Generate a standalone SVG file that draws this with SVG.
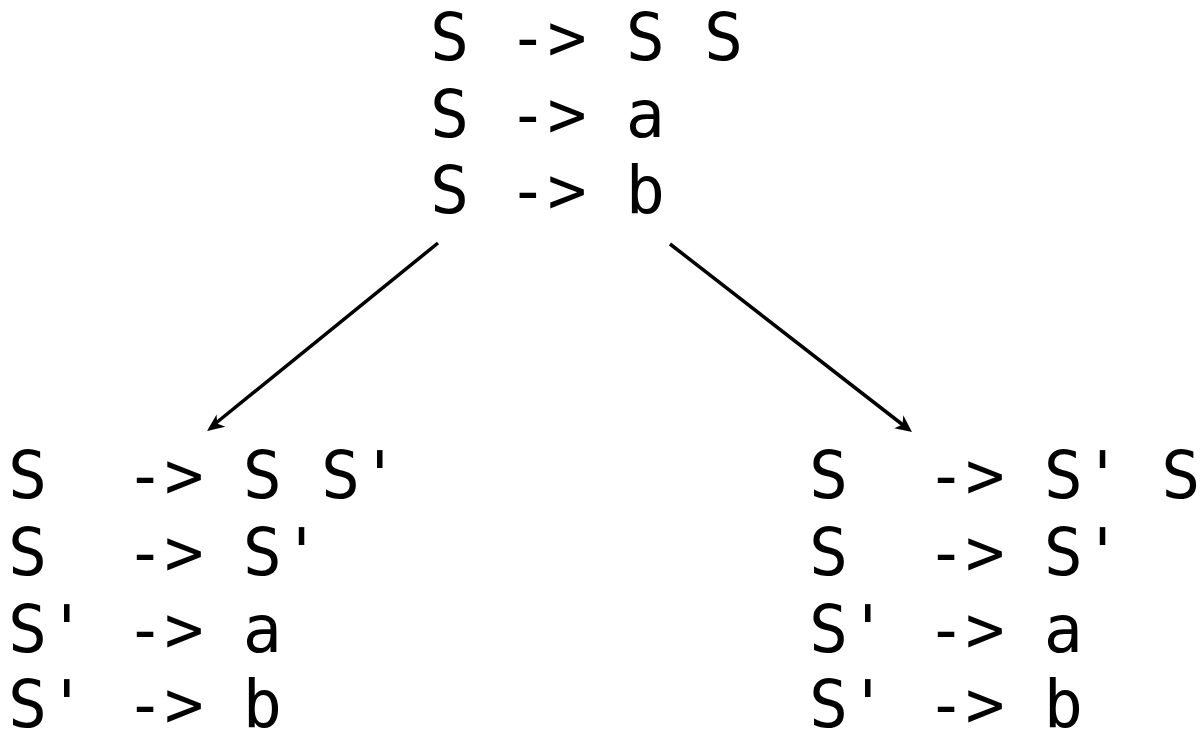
<svg xmlns="http://www.w3.org/2000/svg" width="1202" height="733" viewBox="0 0 1202 733">
<style>
.t{font-family:"DejaVu Sans Mono","Liberation Mono",monospace;font-size:65px;fill:#000;white-space:pre}
.c{stroke:#000;stroke-width:3.5;fill:none}
.h{fill:#000}
</style>
<rect width="1202" height="733" fill="#fff"/>
<g id="top">
<text class="t" xml:space="preserve"><tspan x="430" y="60">S -&gt; S S</tspan><tspan x="430" y="137">S -&gt; a</tspan><tspan x="430" y="213">S -&gt; b</tspan></text>
</g>
<g id="left">
<text class="t" xml:space="preserve"><tspan x="8" y="498">S  -&gt; S S'</tspan><tspan x="8" y="575">S  -&gt; S'</tspan><tspan x="8" y="652">S' -&gt; a</tspan><tspan x="8" y="727">S' -&gt; b</tspan></text>
</g>
<g id="right">
<text class="t" xml:space="preserve"><tspan x="809" y="498">S  -&gt; S' S</tspan><tspan x="809" y="575">S  -&gt; S'</tspan><tspan x="809" y="652">S' -&gt; a</tspan><tspan x="809" y="727">S' -&gt; b</tspan></text>
</g>
<g id="connectors">
<line class="c" x1="438" y1="243" x2="216" y2="423"/>
<path class="h" d="M207,431 L225.4,426.8 L217.1,423.4 L216.6,414.5 Z"/>
<line class="c" x1="670" y1="244" x2="903" y2="425"/>
<path class="h" d="M912,432 L903.3,415.2 L902.5,424.6 L894.3,428.3 Z"/>
</g>
</svg>
